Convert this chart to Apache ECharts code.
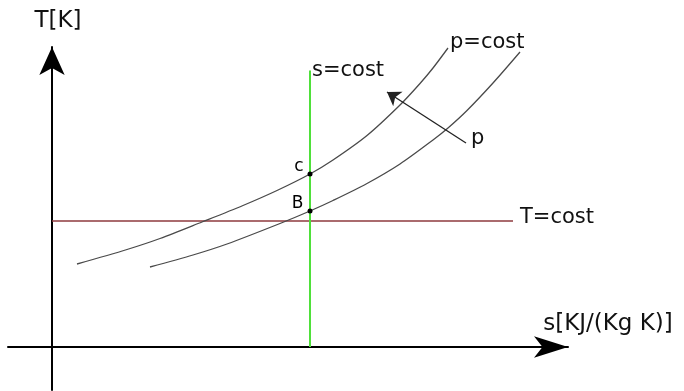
<!DOCTYPE html>
<html>
<head>
<meta charset="utf-8">
<script src="https://cdn.jsdelivr.net/npm/echarts@6/dist/echarts.min.js"></script>
<style>
  html, body { margin: 0; padding: 0; background: #fff; }
  #chart { width: 684px; height: 391px; }
</style>
</head>
<body>
<div id="chart"></div>
<script>
// isobar curves (p = cost), s / T in arbitrary units
const upperS = [0.50, 1.50, 2.16, 3.00, 3.82, 4.50, 5.16, 5.62, 6.30, 6.96, 7.36, 7.62, 7.92];
const upperT = [1.66, 1.95, 2.17, 2.50, 2.83, 3.13, 3.46, 3.74, 4.23, 4.84, 5.27, 5.58, 5.98];
const lowerS = [1.96, 2.82, 3.50, 4.56, 5.16, 5.62, 6.30, 6.96, 7.62, 7.92, 8.30, 8.82, 9.36];
const lowerT = [1.60, 1.84, 2.06, 2.47, 2.72, 2.93, 3.27, 3.66, 4.14, 4.38, 4.73, 5.28, 5.90];

// isentrope (s = cost) and isotherm (T = cost)
const sConst = 5.16;
const sLineT = [0, 5.53];
const TConst = 2.52;
const TLineS = [0, 9.22];

// states on the isentrope
const pointNames = ['c', 'B'];
const pointT = [3.46, 2.72];

// arrow showing increasing p
const pArrowFrom = [8.28, 4.08];
const pArrowTo = [6.70, 5.10];

const font = 'DejaVu Sans';
const zip = (a, b) => a.map((v, i) => [v, b[i]]);

const chart = echarts.init(document.getElementById('chart'));
const option = {
  animation: false,
  grid: { left: 8, right: 116, top: 47, bottom: 1 },
  xAxis: {
    type: 'value',
    min: -0.88,
    max: 10.32,
    name: 's[KJ/(Kg K)]',
    nameLocation: 'end',
    nameGap: 40,
    nameTextStyle: {
      fontFamily: font, fontSize: 23, color: '#111',
      align: 'center', verticalAlign: 'bottom', padding: [0, 0, 11, 0]
    },
    axisLine: {
      onZero: true,
      symbol: ['none', 'arrow'],
      symbolSize: [16, 34],
      lineStyle: { color: '#000', width: 2 }
    },
    axisTick: { show: false },
    axisLabel: { show: false },
    splitLine: { show: false }
  },
  yAxis: {
    type: 'value',
    min: -0.86,
    max: 6.0,
    name: 'T[K]',
    nameLocation: 'end',
    nameGap: 14,
    nameTextStyle: {
      fontFamily: font, fontSize: 23, color: '#111', padding: [0, 0, 0, 12]
    },
    axisLine: {
      onZero: true,
      symbol: ['none', 'arrow'],
      symbolSize: [19, 28],
      lineStyle: { color: '#000', width: 2 }
    },
    axisTick: { show: false },
    axisLabel: { show: false },
    splitLine: { show: false }
  },
  series: [
    {
      name: 'T=cost',
      type: 'line',
      data: TLineS.map(s => [s, TConst]),
      symbol: 'none',
      lineStyle: { color: '#8e3a3e', width: 1.5 },
      endLabel: {
        show: true, formatter: 'T=cost', distance: 7, offset: [0, -3],
        fontFamily: font, fontSize: 21, color: '#111'
      },
      z: 2
    },
    {
      name: 'p1',
      type: 'line',
      data: zip(upperS, upperT),
      smooth: 0.3,
      symbol: 'none',
      lineStyle: { color: '#4a4a4a', width: 1.3 },
      endLabel: {
        show: true, formatter: 'p=cost', distance: 2, offset: [0, -5],
        fontFamily: font, fontSize: 21, color: '#111'
      },
      z: 3
    },
    {
      name: 'p2',
      type: 'line',
      data: zip(lowerS, lowerT),
      smooth: 0.3,
      symbol: 'none',
      lineStyle: { color: '#4a4a4a', width: 1.3 },
      z: 3
    },
    {
      name: 's=cost',
      type: 'line',
      data: sLineT.map(t => [sConst, t]),
      symbol: 'none',
      lineStyle: { color: '#4fe03a', width: 2 },
      endLabel: {
        show: true, formatter: 's=cost', position: 'top', distance: 2,
        fontFamily: font, fontSize: 21, color: '#111'
      },
      z: 4
    },
    {
      name: 'points',
      type: 'scatter',
      data: pointNames.map((n, i) => ({ name: n, value: [sConst, pointT[i]] })),
      symbolSize: 5,
      itemStyle: { color: '#000', opacity: 1 },
      label: {
        show: true, formatter: '{b}', position: 'left', distance: 4, offset: [0, -7],
        fontFamily: font, fontSize: 17, color: '#000'
      },
      z: 5
    },
    {
      name: 'pArrow',
      type: 'lines',
      coordinateSystem: 'cartesian2d',
      data: [{ coords: [pArrowFrom, pArrowTo] }],
      symbol: ['none', 'arrow'],
      symbolSize: 13,
      lineStyle: { color: '#222', width: 1.3, opacity: 1, curveness: 0 },
      z: 5
    },
    {
      name: 'pLabel',
      type: 'scatter',
      data: [{ name: 'p', value: pArrowFrom }],
      symbolSize: 0,
      itemStyle: { opacity: 1 },
      label: {
        show: true, formatter: '{b}', position: 'right', distance: 5, offset: [0, -4],
        fontFamily: font, fontSize: 21, color: '#111'
      }
    }
  ]
};
chart.setOption(option);
</script>
</body>
</html>
